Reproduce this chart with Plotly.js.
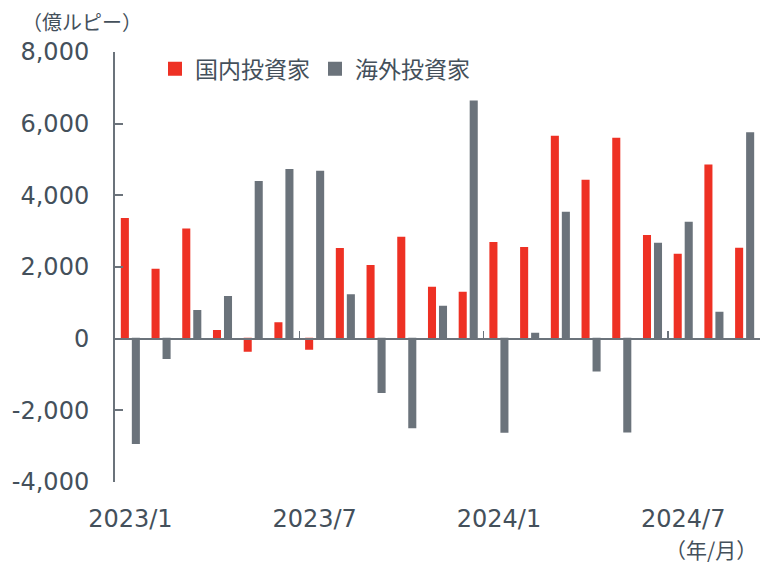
<!DOCTYPE html>
<html>
<head>
<meta charset="utf-8">
<script src="https://cdn.plot.ly/plotly-3.0.1.min.js"></script>
<style>
html,body{margin:0;padding:0;background:#fff;}
#chart{width:760px;height:563px;}
</style>
</head>
<body>
<div id="chart"></div>
<script>
// ---- data (億ルピー) ----
var months = ['2023/1','2023/2','2023/3','2023/4','2023/5','2023/6','2023/7','2023/8','2023/9','2023/10','2023/11','2023/12',
              '2024/1','2024/2','2024/3','2024/4','2024/5','2024/6','2024/7','2024/8','2024/9'];
var domestic = [3340, 1920, 3050, 215, -340, 430, -280, 2500, 2025, 2815, 1420, 1280,
                2670, 2530, 5635, 4410, 5580, 2865, 2340, 4830, 2510];
var foreign  = [-2910, -540, 775, 1160, 4375, 4710, 4655, 1215, -1485, -2470, 890, 6620,
                -2600, 140, 3515, -885, -2590, 2650, 3235, 720, 5735];
var seriesNames = ['国内投資家', '海外投資家'];
var xTickVals = ['2023/1', '2023/7', '2024/1', '2024/7'];
var yTickVals = [-4000, -2000, 0, 2000, 4000, 6000, 8000];
var yTickText = ['-4,000', '-2,000', '0', '2,000', '4,000', '6,000', '8,000'];
var yUnit = '（億ルピー）';
var xUnit = '（年/月）';

var FONT = 'DejaVu Sans, Noto Sans CJK JP, sans-serif';
var CJK = 'Noto Sans CJK JP, DejaVu Sans, sans-serif';
var TXT = '#44505b';
var AX = '#6b737b';
var RED = '#ee3124';
var GRAY = '#6b737b';

// boundaries between half-year groups for the small ticks on the zero line
var boundaryTicks = [];
for (var i = 6; i < months.length; i += 6) boundaryTicks.push(i - 0.5);

var traces = [
  {type: 'bar', name: seriesNames[0], x: months, y: domestic,
   marker: {color: RED, line: {color: RED, width: 2}}, hoverinfo: 'x+y'},
  {type: 'bar', name: seriesNames[1], x: months, y: foreign,
   marker: {color: GRAY, line: {color: GRAY, width: 2}}, hoverinfo: 'x+y'},
  {type: 'scatter', x: [], y: [], xaxis: 'x2', yaxis: 'y', showlegend: false, hoverinfo: 'skip'}
];

var layout = {
  width: 760, height: 563,
  margin: {l: 115, r: 0, t: 52, b: 81, pad: 0},
  paper_bgcolor: '#ffffff', plot_bgcolor: '#ffffff',
  font: {family: FONT, size: 24, color: TXT},
  barmode: 'group',
  bargap: 0.283,
  bargroupgap: 0.45,
  showlegend: true,
  legend: {
    orientation: 'h', x: 0.062, xanchor: 'left', y: 0.961, yanchor: 'middle',
    font: {family: CJK, size: 23, color: TXT}, bgcolor: 'rgba(0,0,0,0)',
    traceorder: 'normal', itemclick: false
  },
  xaxis: {
    type: 'category', range: [-0.5, months.length - 0.5],
    tickmode: 'array', tickvals: xTickVals, ticktext: xTickVals,
    ticks: '', showline: false, showgrid: false, zeroline: false,
    ticklabelstandoff: 20,
    tickfont: {family: FONT, size: 24, color: TXT}
  },
  xaxis2: {
    type: 'linear', overlaying: 'x', anchor: 'free', position: 1/3,
    range: [-0.5, months.length - 0.5],
    showline: true, linecolor: AX, linewidth: 2,
    ticks: 'inside', ticklen: 7, tickwidth: 1.5, tickcolor: AX,
    tickmode: 'array', tickvals: boundaryTicks,
    showticklabels: false, showgrid: false, zeroline: false
  },
  yaxis: {
    range: [-4000, 8000], tickmode: 'array', tickvals: yTickVals, ticktext: yTickText,
    showline: true, linecolor: AX, linewidth: 2,
    ticks: 'inside', ticklen: 8, tickwidth: 2, tickcolor: AX,
    showgrid: false, zeroline: false,
    ticklabelstandoff: 19,
    tickfont: {family: FONT, size: 24, color: TXT}
  },
  annotations: [
    {text: yUnit, xref: 'paper', yref: 'paper', x: -0.0504, y: 1.072, xanchor: 'center', yanchor: 'middle',
     showarrow: false, font: {family: CJK, size: 20, color: TXT}},
    {text: xUnit, xref: 'paper', yref: 'paper', x: 0.9984, y: -0.156, xanchor: 'right', yanchor: 'middle',
     showarrow: false, font: {family: CJK, size: 21, color: TXT}}
  ]
};

Plotly.newPlot('chart', traces, layout, {displayModeBar: false, staticPlot: true});
</script>
</body>
</html>
